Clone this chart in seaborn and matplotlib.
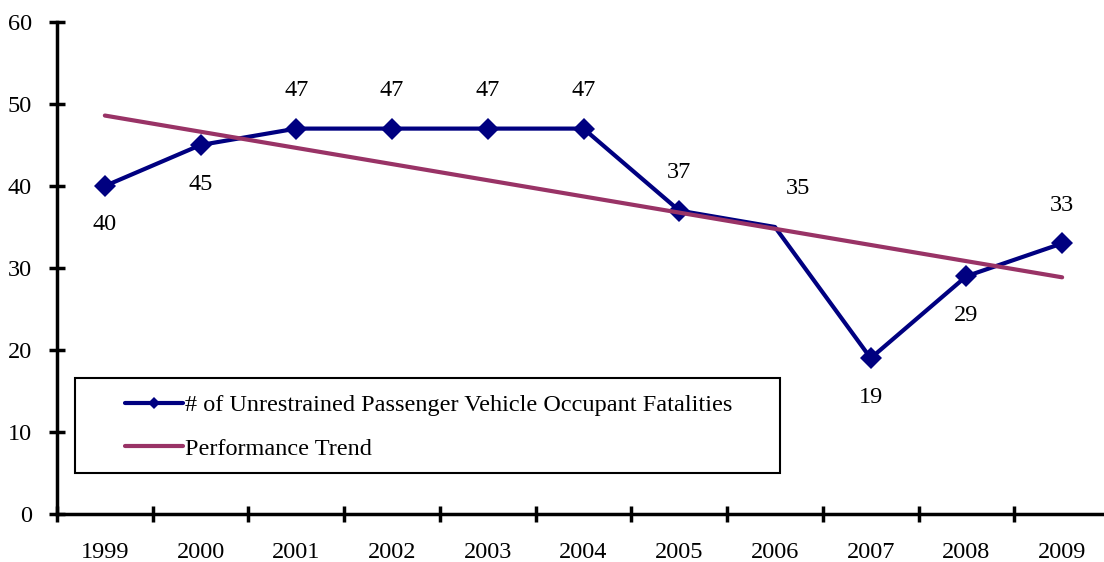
import numpy as np
import pandas as pd
import matplotlib
matplotlib.use("Agg")
import matplotlib.pyplot as plt
from matplotlib.patches import Rectangle
from matplotlib.lines import Line2D
import seaborn as sns

# Chart data
years = ["1999", "2000", "2001", "2002", "2003", "2004", "2005", "2006", "2007", "2008", "2009"]
fatalities = [40, 45, 47, 47, 47, 47, 37, 35, 19, 29, 33]
label_side = ["below", "below", "above", "above", "above", "above", "above", "above", "below", "below", "above"]
y_ticks = [0, 10, 20, 30, 40, 50, 60]

series_name = "# of Unrestrained Passenger Vehicle Occupant Fatalities"
trend_name = "Performance Trend"

NAVY = "#000080"
PLUM = "#993366"
FS = 17.5


def main():
    sns.set_style("white")
    plt.rcParams["font.family"] = ["Liberation Serif", "DejaVu Serif"]
    plt.rcParams["font.size"] = FS
    plt.rcParams["text.color"] = "black"
    plt.rcParams["xtick.color"] = "black"
    plt.rcParams["ytick.color"] = "black"

    df = pd.DataFrame({"year": years, "value": fatalities})
    df["pos"] = np.arange(len(df))

    fig = plt.figure(figsize=(11.04, 5.62), dpi=100)
    ax = fig.add_axes([57 / 1104, 48 / 562, 1053 / 1104, 492 / 562])

    # Data line (the 2006 point has no marker in the original)
    marked = [i for i in range(len(df)) if years[i] != "2006"]
    sns.lineplot(data=df, x="pos", y="value", color=NAVY, lw=3, marker="D",
                 markersize=11, markeredgewidth=0, markevery=marked, ax=ax, zorder=2)

    # Linear trend fitted by seaborn
    sns.regplot(data=df, x="pos", y="value", scatter=False, ci=None, truncate=True,
                line_kws={"color": PLUM, "lw": 3, "zorder": 3}, ax=ax)

    # Value labels
    for i, (v, side) in enumerate(zip(fatalities, label_side)):
        dy = 38 if side == "above" else -39
        dx = 23 if years[i] == "2006" else 0
        ax.annotate(str(v), (i, v), xytext=(dx, dy), textcoords="offset pixels",
                    ha="center", va="center", fontsize=FS)

    ax.set_xlim(-0.5, len(years) - 0.5)
    ax.set_ylim(0, 60)
    ax.set_yticks(y_ticks)
    ax.set_xticks(df["pos"])
    ax.set_xticklabels(years)
    ax.set_xticks(np.arange(-0.5, len(years) + 0.5), minor=True)
    ax.tick_params(axis="x", which="major", bottom=True, length=0, pad=20)
    ax.tick_params(axis="x", which="minor", bottom=True, direction="inout",
                   length=12, width=2.5)
    ax.tick_params(axis="y", left=True, direction="inout", length=12, width=2.5, pad=12)
    ax.set_xlabel("")
    ax.set_ylabel("")

    for side in ["top", "right"]:
        ax.spines[side].set_visible(False)
    for side in ["left", "bottom"]:
        ax.spines[side].set_linewidth(2.5)
        ax.spines[side].set_color("black")

    # Legend box
    ax.add_patch(Rectangle((18 / 1053, 41 / 492), 705 / 1053, 95 / 492,
                           transform=ax.transAxes, fill=False, ec="black", lw=1.5,
                           zorder=4))
    handles = [
        Line2D([], [], color=NAVY, lw=3, marker="D", markersize=6, markeredgewidth=0),
        Line2D([], [], color=PLUM, lw=3),
    ]
    ax.legend(handles, [series_name, trend_name], loc="center left",
              bbox_to_anchor=(68 / 1053, 87 / 492), frameon=False, fontsize=FS,
              handlelength=2.4, handletextpad=0.05, labelspacing=0.9,
              borderaxespad=0, borderpad=0)

    fig.savefig("out.png", dpi=100)


if __name__ == "__main__":
    main()
